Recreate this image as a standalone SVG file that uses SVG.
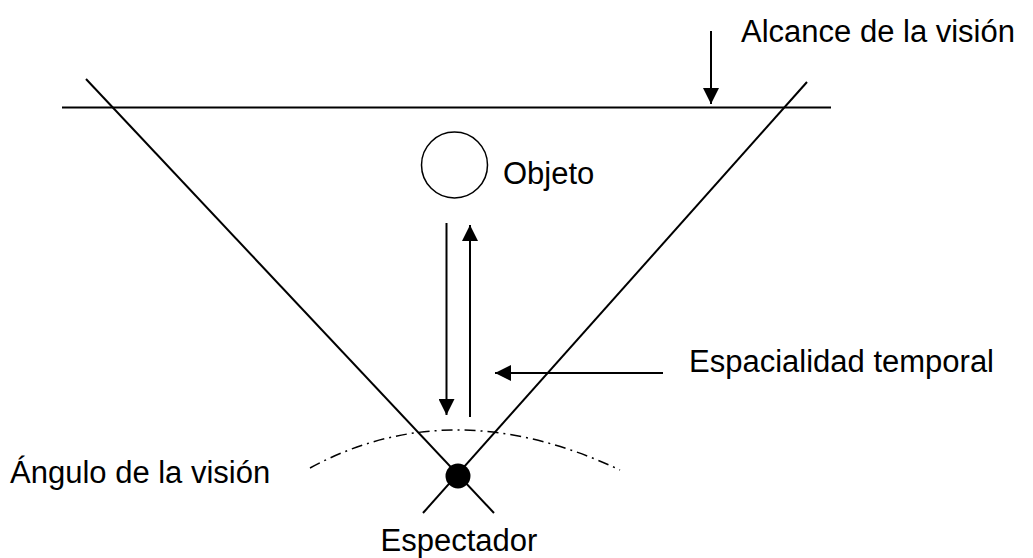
<svg xmlns="http://www.w3.org/2000/svg" width="1033" height="558" viewBox="0 0 1033 558">
<style>
.ln{stroke:#000;stroke-width:2;fill:none}
.lbl{font-family:"Liberation Sans",Arial,sans-serif;font-size:31px;fill:#000}
.dd{stroke:#000;stroke-width:1.5;fill:none;stroke-dasharray:11 5 2 5}
</style>
<defs>
<marker id="ah" markerWidth="16" markerHeight="16" viewBox="0 0 16 16" refX="16" refY="8" orient="auto" markerUnits="userSpaceOnUse">
<path d="M0,0 L16,8 L0,16 Z" fill="#000"/>
</marker>
</defs>
<g id="connectors">
<line class="ln" x1="62" y1="107.5" x2="831" y2="107.5"/>
<line class="ln" x1="86" y1="79" x2="494" y2="513"/>
<line class="ln" x1="807" y1="82" x2="423" y2="513"/>
<line class="ln" x1="711" y1="31" x2="711" y2="104" marker-end="url(#ah)"/>
<line class="ln" x1="446.5" y1="223" x2="446.5" y2="415" marker-end="url(#ah)"/>
<line class="ln" x1="470" y1="417" x2="470" y2="225" marker-end="url(#ah)"/>
<line class="ln" x1="663" y1="373" x2="495" y2="373" marker-end="url(#ah)"/>
<path class="dd" d="M310,468 Q452,391 620,470"/>
</g>
<g id="objeto">
<circle cx="454.5" cy="165" r="33" fill="#fff" stroke="#000" stroke-width="1.5"/>
<text class="lbl" x="503" y="184">Objeto</text>
</g>
<g id="espectador">
<circle cx="458" cy="476" r="12.5" fill="#000"/>
<text class="lbl" x="459" y="551" text-anchor="middle">Espectador</text>
</g>
<g id="alcance">
<text class="lbl" x="741" y="42">Alcance de la visión</text>
</g>
<g id="espacialidad">
<text class="lbl" x="689" y="372">Espacialidad temporal</text>
</g>
<g id="angulo">
<text class="lbl" x="10" y="483">Ángulo de la visión</text>
</g>
</svg>
